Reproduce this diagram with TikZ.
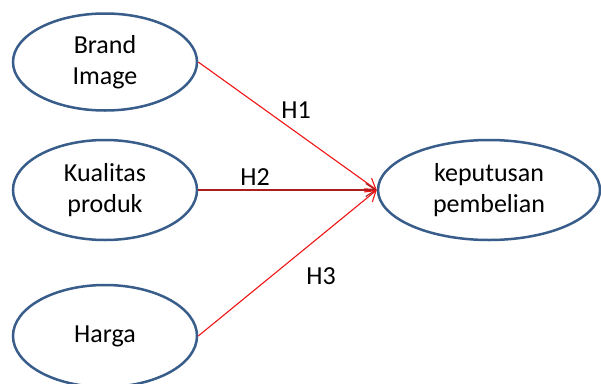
\documentclass[tikz,border=0pt]{standalone}
\usepackage{fontspec}
\setmainfont{Carlito}
\usetikzlibrary{shapes.geometric,arrows.meta}
\definecolor{ellblue}{RGB}{56,93,138}
\definecolor{linered}{RGB}{240,20,20}
\definecolor{darkred}{RGB}{170,30,30}
\tikzset{
  var/.style={ellipse, draw=ellblue, line width=2.5pt, fill=white, inner sep=0pt,
    minimum width=184pt, minimum height=97pt, align=center,
    font=\fontsize{26}{31}\selectfont},
  link/.style={draw=linered, line width=1.1pt, -{Straight Barb[length=10pt,width=13pt]}},
  lab/.style={font=\fontsize{26}{31}\selectfont, inner sep=0pt}
}
\begin{document}
\begin{tikzpicture}[x=1pt,y=-1pt]
\useasboundingbox (0,0) rectangle (601,383);
\node[var] (brand) at (105,62) {Brand\\Image};
\node[var, minimum height=100pt] (kual) at (105,190) {Kualitas\\produk};
\node[var, minimum height=102pt] (harga) at (105,336) {Harga};
\node[var, minimum width=222pt, minimum height=100pt] (kep) at (489,190) {keputusan\\pembelian};
\draw[link] (brand.east) -- (kep.west);
\draw[link, draw=darkred] (kual.east) -- (kep.west);
\draw[link] (harga.east) -- (kep.west);
\node[lab] (h1) at (296,110) {H1};
\node[lab] (h2) at (255,177) {H2};
\node[lab] (h3) at (321,276) {H3};
\end{tikzpicture}
\end{document}
